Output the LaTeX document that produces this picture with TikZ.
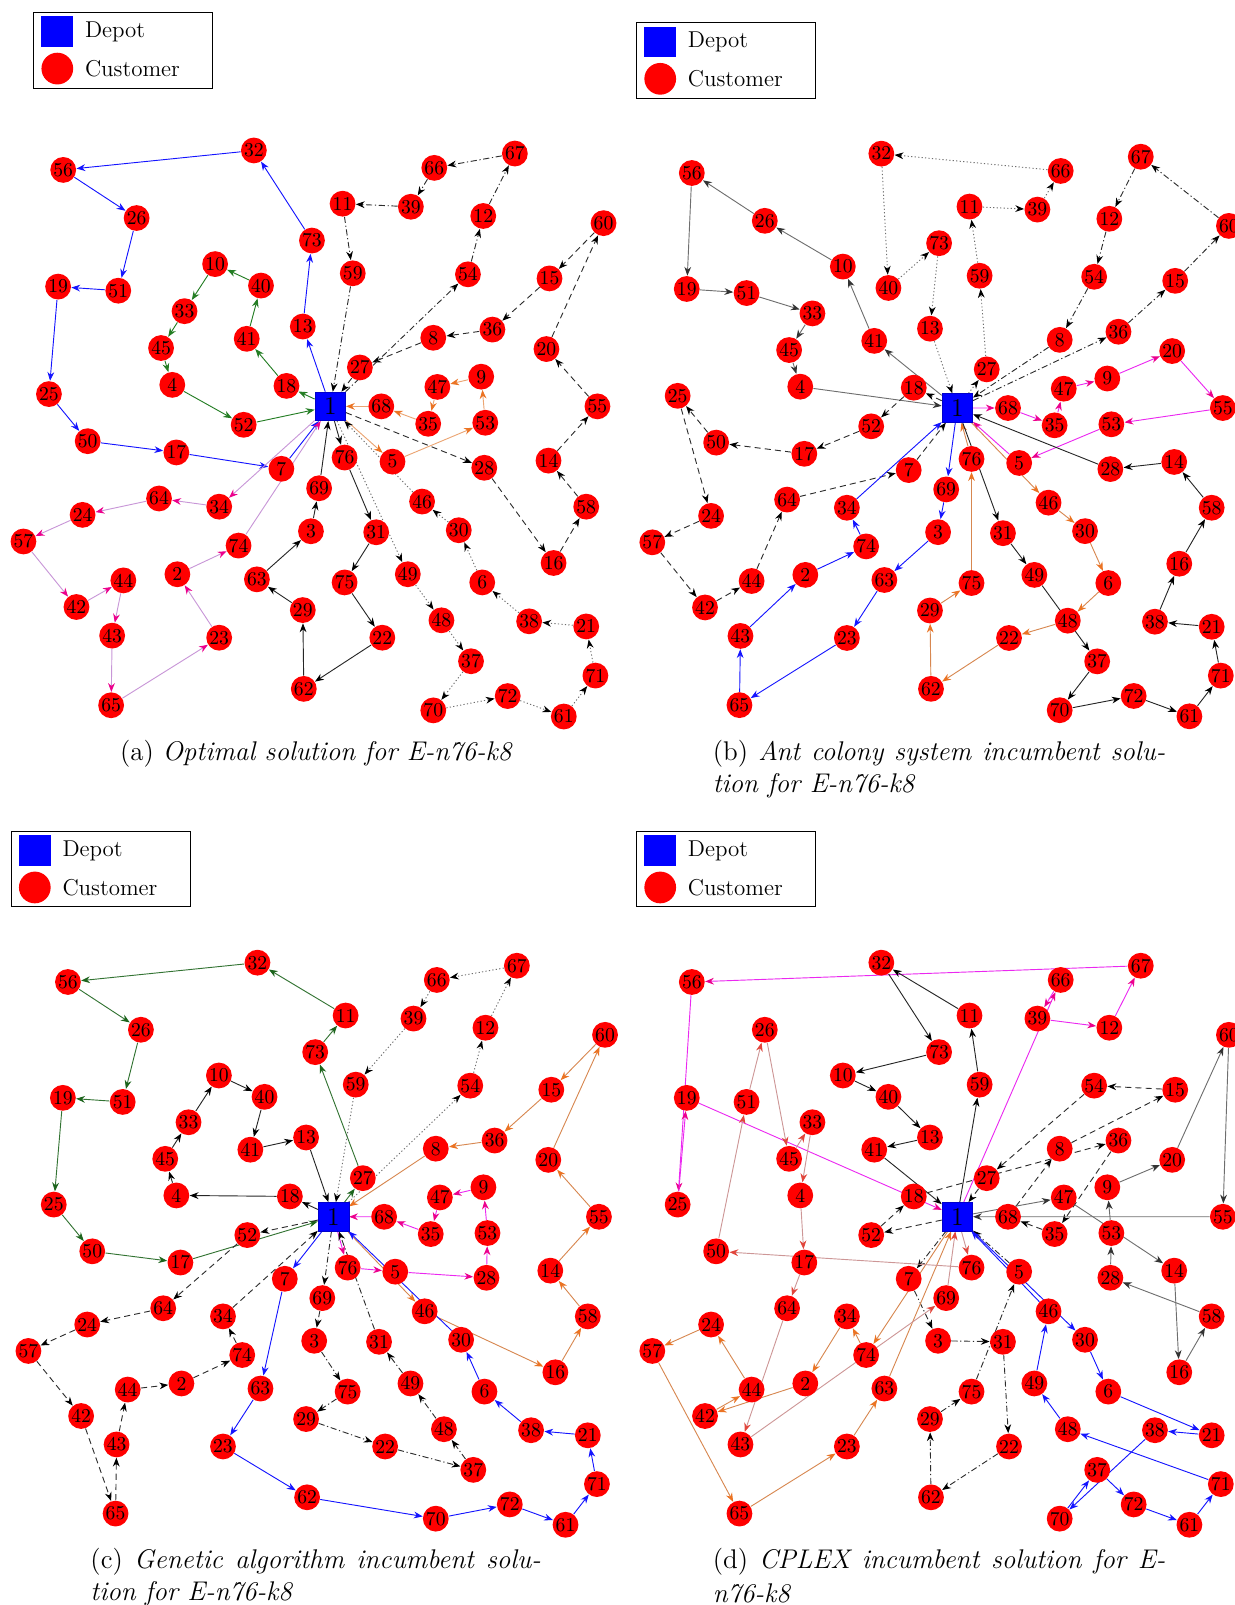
\documentclass[tikz,border=0pt]{standalone}
\usetikzlibrary{arrows.meta,backgrounds}
\definecolor{cBlue}{RGB}{20,20,255}
\definecolor{cGreen}{RGB}{35,125,35}
\definecolor{cGreenC}{RGB}{50,115,50}
\definecolor{cMagL}{RGB}{200,150,215}
\definecolor{cMag}{RGB}{235,40,240}
\definecolor{cOrL}{RGB}{235,165,115}
\definecolor{cOr}{RGB}{235,115,35}
\definecolor{cOrB}{RGB}{215,135,80}
\definecolor{cRosy}{RGB}{205,150,150}
\definecolor{cRed}{RGB}{225,70,60}
\definecolor{cGray}{RGB}{110,110,110}
\definecolor{cDot}{RGB}{110,110,110}
\definecolor{cDash}{RGB}{45,45,45}
\tikzset{
  cust/.style={circle, fill=red, inner sep=0pt, minimum size=12.6pt, font=\fontsize{9.6}{10}\selectfont},
  depot/.style={rectangle, fill=blue, draw=blue!80!black, line width=0.3pt, inner sep=0pt, minimum width=15pt, minimum height=14pt, font=\fontsize{12.5}{13}\selectfont},
  arr/.style={-{Stealth[length=4.3pt,width=3.3pt,#1]}},
  arr/.default={},
  rt/.style={line width=0.45pt},
  rBlue/.style={rt, draw=cBlue, arr},
  rGreen/.style={rt, draw=cGreen, arr},
  rGreenC/.style={rt, draw=cGreenC, arr={color=cGreen!80!black}},
  rMagA/.style={rt, draw=cMagL, arr={color=magenta}},
  rMag/.style={rt, draw=cMag, arr={color=magenta}},
  rOrA/.style={rt, draw=cOrL, arr={color=cOr}},
  rOr/.style={rt, draw=cOrB, arr={color=cOr}},
  rRosy/.style={rt, draw=cRosy, arr={color=cRed}},
  rBlack/.style={rt, draw=black!85, arr={color=black}},
  rGray/.style={rt, draw=cGray, arr={color=black!80}},
  rDot/.style={rt, draw=cDot, dash pattern=on 0.6pt off 1.1pt, arr={color=black}},
  rDash/.style={rt, draw=cDash, dash pattern=on 3pt off 2pt, arr={color=black}},
  rDashDot/.style={rt, draw=cDash, dash pattern=on 3pt off 1.3pt on 0.6pt off 1.3pt, arr={color=black}},
  legtext/.style={anchor=west, font=\fontsize{11.2}{13}\selectfont},
  captext/.style={anchor=west, inner sep=0pt, font=\fontsize{13.2}{15.5}\selectfont},
}
\def\layout{2/174/561,3/305/519,4/169/376,5/385/451,6/473/569,7/276/458,8/425/330,9/472/368,10/211/258,11/336/199,12/474/211,13/297/319,14/538/450,15/539/272,16/543/550,17/173/442,18/281/377,19/57/280,20/536/341,21/575/612,22/375/623,23/215/623,24/81/503,25/48/385,26/134/213,27/353/359,28/475/457,29/297/596,30/450/518,31/369/520,32/249/147,33/181/304,34/215/495,35/420/414,36/483/322,37/462/646,38/519/607,39/403/202,40/256/279,41/242/331,42/75/593,43/110/621,44/121/567,45/158/340,46/414/490,47/429/378,48/433/606,49/400/561,50/86/431,51/116/284,52/239/415,53/476/413,54/459/268,55/586/397,56/62/166,57/23/529,58/575/495,59/346/267,60/592/218,61/553/700,62/298/673,63/252/566,64/156/487,65/109/689,66/426/164,67/505/150,68/374/397,69/313/477,70/425/694,71/584/660,72/498/680,73/306/235,74/234/533,75/338/569,76/338/447}
\newcommand\panelnodes[1]{%
  \node[depot] (#1-1) at (324,397) {1};
  \foreach \i/\x/\y in \layout {\node[cust] (#1-\i) at (\x,\y) {\i};}%
}
\newcommand\route[3]{%
  \foreach \s/\t in {#3} {\draw[#2] (#1-\s) -- (#1-\t);}%
}
\newcommand\legendbox[1]{%
  \draw[line width=0.5pt] (0,0) rectangle (175,74);
  \node[fill=blue, inner sep=0pt, minimum width=15.5pt, minimum height=15pt] (#1-sq) at (23,19) {};
  \node[circle, fill=red, inner sep=0pt, minimum size=15.5pt] (#1-ci) at (23,55) {};
  \node[legtext] (#1-dt) at (43,19) {Depot};
  \node[legtext] (#1-ct) at (43,55) {Customer};
}
\begin{document}
\begin{tikzpicture}[x=0.5pt,y=-0.5pt]
\useasboundingbox (0,0) rectangle (1206,1568);
% ---------------- (a)
\begin{scope}[xscale=0.996]
  \panelnodes{a}
  \begin{pgfonlayer}{background}
  \route{a}{rBlue}{1/13,13/73,73/32,32/56,56/26,26/51,51/19,19/25,25/50,50/17,17/7,7/1}
  \route{a}{rGreen}{1/18,18/41,41/40,40/10,10/33,33/45,45/4,4/52,52/1}
  \route{a}{rMagA}{1/34,34/64,64/24,24/57,57/42,42/44,44/43,43/65,65/23,23/2,2/74,74/1}
  \route{a}{rOrA}{1/5,5/53,53/9,9/47,47/35,35/68,68/1}
  \route{a}{rBlack}{1/76,76/31,31/75,75/22,22/62,62/29,29/63,63/3,3/69,69/1}
  \route{a}{rDot}{1/49,49/48,48/37,37/70,70/72,72/61,61/71,71/21,21/38,38/6,6/30,30/46,46/1}
  \route{a}{rDash}{1/28,28/16,16/58,58/14,14/55,55/20,20/60,60/15,15/36,36/8,8/27,27/1}
  \route{a}{rDashDot}{1/54,54/12,12/67,67/66,66/39,39/11,11/59,59/1}
  \end{pgfonlayer}
\end{scope}
\begin{scope}[shift={(33,12)}]\legendbox{la}\end{scope}
\node[anchor=center, inner sep=0pt, font=\fontsize{13.2}{15.5}\selectfont] (capa) at (309,736) {(a) \textit{Optimal solution for E-n76-k8}};
% ---------------- (b)
\begin{scope}[shift={(614.5,4)}, xscale=0.99, yscale=0.994]
  \panelnodes{b}
  \begin{pgfonlayer}{background}
  \route{b}{rDot}{1/27,27/59,59/11,11/39,39/66,66/32,32/40,40/73,73/13,13/1}
  \route{b}{rGray}{1/41,41/10,10/26,26/56,56/19,19/51,51/33,33/45,45/4,4/1}
  \route{b}{rDashDot}{1/36,36/15,15/60,60/67,67/12,12/54,54/8,8/1}
  \route{b}{rDash}{1/18,18/52,52/17,17/50,50/25,25/24,24/57,57/42,42/44,44/64,64/7,7/1}
  \route{b}{rBlue}{1/69,69/3,3/63,63/23,23/65,65/43,43/2,2/74,74/34,34/1}
  \route{b}{rMag}{1/68,68/35,35/47,47/9,9/20,20/55,55/53,53/5,5/1}
  \route{b}{rOr}{1/46,46/30,30/6,6/48,48/22,22/62,62/29,29/75,75/76,76/1}
  \route{b}{rBlack}{1/31,31/49,49/37,37/70,70/72,72/61,61/71,71/21,21/38,38/16,16/58,58/14,14/28,28/1}
  \end{pgfonlayer}
\end{scope}
\begin{scope}[shift={(622,22)}]\legendbox{lb}\end{scope}
\node[captext] (capb1) at (696,736) {\makebox[221pt][s]{(b) \textit{Ant colony system incumbent solu-}}};
\node[captext] (capb2) at (696,768) {\textit{tion for E-n76-k8}};
% ---------------- (c)
\begin{scope}[shift={(5,794.5)}, xscale=0.99, yscale=0.993]
  \panelnodes{c}
  \begin{pgfonlayer}{background}
  \route{c}{rGreenC}{1/27,27/73,73/11,11/32,32/56,56/26,26/51,51/19,19/25,25/50,50/17,17/1}
  \route{c}{rBlack}{1/18,18/4,4/45,45/33,33/10,10/40,40/41,41/13,13/1}
  \route{c}{rDot}{1/54,54/12,12/67,67/66,66/39,39/59,59/1}
  \route{c}{rOr}{1/46,46/16,16/58,58/14,14/55,55/20,20/60,60/15,15/36,36/8,8/1}
  \route{c}{rMag}{1/76,76/5,5/28,28/53,53/9,9/47,47/35,35/68,68/1}
  \route{c}{rBlue}{1/7,7/63,63/23,23/62,62/70,70/72,72/61,61/71,71/21,21/38,38/6,6/30,30/1}
  \route{c}{rDash}{1/52,52/64,64/24,24/57,57/42,42/65,65/43,43/44,44/2,2/74,74/34,34/1}
  \route{c}{rDashDot}{1/69,69/3,3/75,75/29,29/22,22/37,37/48,48/49,49/31,31/1}
  \end{pgfonlayer}
\end{scope}
\begin{scope}[shift={(11,812)}]\legendbox{lc}\end{scope}
\node[captext] (capc1) at (88,1526) {\makebox[220pt][s]{(c) \textit{Genetic algorithm incumbent solu-}}};
\node[captext] (capc2) at (88,1557) {\textit{tion for E-n76-k8}};
% ---------------- (d)
\begin{scope}[shift={(614.5,794.5)}, xscale=0.99, yscale=0.993]
  \panelnodes{d}
  \begin{pgfonlayer}{background}
  \route{d}{rMag}{1/66,66/39,39/12,12/67,67/56,56/25,25/19,19/1}
  \route{d}{rBlack}{1/59,59/11,11/32,32/73,73/10,10/40,40/13,13/41,41/1}
  \route{d}{rDash}{1/52,52/18,18/36,36/35,35/68,68/8,8/15,15/54,54/27,27/1}
  \route{d}{rDashDot}{1/7,7/3,3/31,31/22,22/62,62/29,29/75,75/5,5/1}
  \route{d}{rBlue}{1/30,30/6,6/21,21/38,38/70,70/37,37/72,72/61,61/71,71/48,48/49,49/46,46/1}
  \route{d}{rOr}{1/74,74/34,34/2,2/42,42/44,44/24,24/57,57/65,65/23,23/63,63/1}
  \route{d}{rRosy}{1/76,76/50,50/51,51/26,26/45,45/33,33/4,4/17,17/64,64/43,43/69,69/1}
  \route{d}{rGray}{1/47,47/14,14/16,16/58,58/28,28/53,53/9,9/20,20/60,60/55,55/1}
  \end{pgfonlayer}
\end{scope}
\begin{scope}[shift={(622,812)}]\legendbox{ld}\end{scope}
\node[captext] (capd1) at (696,1526) {\makebox[221pt][s]{(d) \textit{CPLEX incumbent solution for E-}}};
\node[captext] (capd2) at (696,1557) {\textit{n76-k8}};
\end{tikzpicture}
\end{document}
